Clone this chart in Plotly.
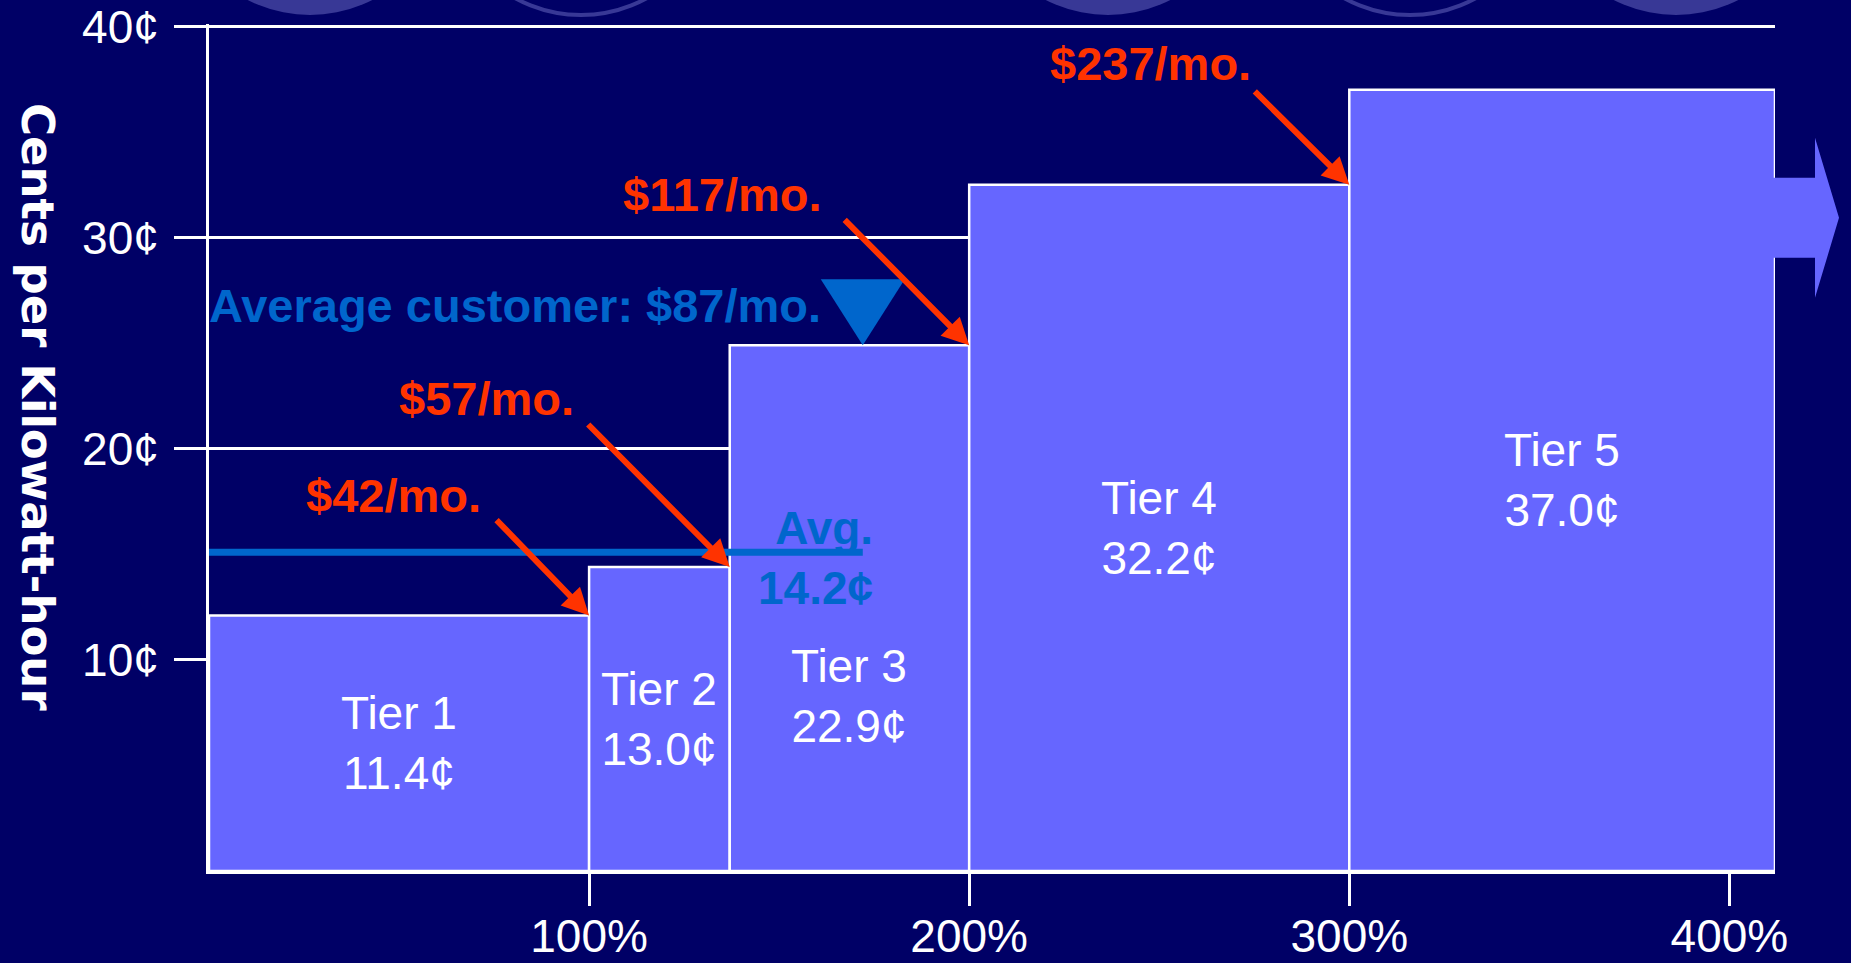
import plotly.graph_objects as go

# ---------------- data ----------------
tier_names = ["Tier 1", "Tier 2", "Tier 3", "Tier 4", "Tier 5"]
tier_rate_labels = ["11.4¢", "13.0¢", "22.9¢", "32.2¢", "37.0¢"]
# usage boundaries, % of baseline
tier_bounds_pct = [0, 100, 137, 200, 300, 412]
# bar heights as drawn against the cents axis
tier_bar_heights = [12.1, 14.4, 24.9, 32.5, 37.0]

# monthly bills at the top of each of tiers 1-4
bill_labels = ["$42/mo.", "$57/mo.", "$117/mo.", "$237/mo."]

avg_usage_pct = 172
avg_rate_height = 15.1
avg_rate_label = "14.2¢"
avg_bill_label = "Average customer: $87/mo."

x_tick_vals = [100, 200, 300, 400]
x_tick_text = ["100%", "200%", "300%", "400%"]
y_tick_vals = [10, 20, 30, 40]
y_tick_text = ["10¢", "20¢", "30¢", "40¢"]
y_title = "Cents per Kilowatt-hour"

# ---------------- style ----------------
BG = "#000066"
BAR = "#6666FF"
RED = "#FF3300"
BLUE = "#0066CC"
DECO = "#383896"
FONT = "Liberation Sans, Arial, sans-serif"
W, H = 1851, 963
ML, MR, MT, MB = 209, 76, 24, 92
PW, PH = W - ML - MR, H - MT - MB
Y_TOP = 40.12

centers = [(a + b) / 2 for a, b in zip(tier_bounds_pct[:-1], tier_bounds_pct[1:])]
widths = [b - a for a, b in zip(tier_bounds_pct[:-1], tier_bounds_pct[1:])]

fig = go.Figure()
fig.add_trace(go.Bar(
    x=centers, y=tier_bar_heights, width=widths,
    marker=dict(color=BAR, line=dict(color="white", width=2.5)),
    hoverinfo="skip", showlegend=False,
))
fig.add_trace(go.Scatter(
    x=[0, avg_usage_pct], y=[avg_rate_height, avg_rate_height],
    mode="lines", line=dict(color=BLUE, width=7),
    hoverinfo="skip", showlegend=False,
))

annotations = []
label_frac = [0.5, 0.5, 0.333, 0.5, 0.5]
for i, (name, lab) in enumerate(zip(tier_names, tier_rate_labels)):
    annotations.append(dict(
        x=centers[i], y=tier_bar_heights[i] * label_frac[i], xref="x", yref="y",
        text=f"{name}<br>{lab}", showarrow=False,
        font=dict(family=FONT, size=46, color="white"),
        xanchor="center", yanchor="middle",
    ))

# red arrows: tail offsets (px) and text offsets (px) relative to the arrow tip
arrow_tail = [(-94, -97), (-143, -144), (-126, -127), (-96, -95)]
text_off = [(-196, 120), (-243, 168), (-247, 151), (-199, 121)]
for i, lab in enumerate(bill_labels):
    tx = tier_bounds_pct[i + 1]
    ty = tier_bar_heights[i]
    annotations.append(dict(
        x=tx, y=ty, xref="x", yref="y", text="", showarrow=True,
        ax=arrow_tail[i][0], ay=arrow_tail[i][1],
        arrowcolor=RED, arrowwidth=6, arrowhead=2, arrowsize=0.9,
        standoff=0, startstandoff=0, font=dict(size=2),
    ))
    annotations.append(dict(
        x=tx, y=ty, xref="x", yref="y", text=lab, showarrow=False,
        xshift=text_off[i][0], yshift=text_off[i][1],
        font=dict(family=FONT, size=47, color=RED, weight="bold"),
        xanchor="center", yanchor="middle",
    ))

annotations.append(dict(
    x=0, y=tier_bar_heights[2], xref="x", yref="y", text=avg_bill_label,
    showarrow=False, xanchor="left", yanchor="middle", yshift=40, xshift=-2,
    font=dict(family=FONT, size=47, color=BLUE, weight="bold"),
))
annotations.append(dict(
    x=avg_usage_pct, y=avg_rate_height, xref="x", yref="y",
    text=f"Avg.<br>{avg_rate_label}", showarrow=False, align="right",
    xanchor="right", yanchor="middle", xshift=12, yshift=-6,
    font=dict(family=FONT, size=46, color=BLUE, weight="bold"),
))
annotations.append(dict(
    x=(38 - ML) / PW, y=(MT + PH - 407) / PH, xref="paper", yref="paper",
    text=y_title, textangle=90, showarrow=False,
    xanchor="center", yanchor="middle",
    font=dict(family="DejaVu Sans, Verdana, sans-serif", size=45, color="white", weight="bold"),
))

shapes = []
# average-customer marker (triangle, pixel-sized, tip on Tier 3 top)
shapes.append(dict(
    type="path", xref="x", yref="y", xsizemode="pixel", ysizemode="pixel",
    xanchor=avg_usage_pct, yanchor=tier_bar_heights[2],
    path="M0,0 L-42,66 L42,66 Z", fillcolor=BLUE, line=dict(width=0), layer="above",
))
# open-ended arrow on Tier 5
shapes.append(dict(
    type="path", xref="paper", yref="y", xsizemode="pixel", ysizemode="pixel",
    xanchor=1, yanchor=tier_bar_heights[4],
    path="M-2,-88 L40,-88 L40,-48 L64,-128 L40,-208 L40,-168 L-2,-168 Z",
    fillcolor=BAR, line=dict(width=0), layer="above",
))

# decorative slide circles along the top edge (pixel positions)
def px_x(px):
    return (px - ML) / PW

def px_y(py):
    return (MT + PH - py) / PH

R = 137
for cx, filled in [(310, True), (581, False), (1108, True), (1410, False), (1676, True)]:
    bottom = 15
    shapes.append(dict(
        type="circle", xref="paper", yref="paper",
        x0=px_x(cx - R), x1=px_x(cx + R), y0=px_y(bottom), y1=px_y(bottom - 2 * R),
        fillcolor=DECO if filled else BG,
        line=dict(color=DECO, width=0 if filled else 4), layer="below",
    ))

fig.update_layout(
    width=W, height=H,
    margin=dict(l=ML, r=MR, t=MT, b=MB, pad=0, autoexpand=False),
    paper_bgcolor=BG, plot_bgcolor=BG,
    showlegend=False, hovermode=False,
    annotations=annotations, shapes=shapes,
    xaxis=dict(
        range=[0, tier_bounds_pct[-1]], tickvals=x_tick_vals, ticktext=x_tick_text,
        ticks="outside", ticklen=32, tickwidth=3, tickcolor="white",
        showline=True, linecolor="white", linewidth=3, automargin=False,
        showgrid=False, zeroline=False, fixedrange=True, ticklabelstandoff=-9,
        ticklabeloverflow="allow",
        tickfont=dict(family=FONT, size=46, color="white"),
    ),
    yaxis=dict(
        range=[0, Y_TOP], tickvals=y_tick_vals, ticktext=y_tick_text,
        ticks="outside", ticklen=32, tickwidth=3, tickcolor="white",
        showline=True, linecolor="white", linewidth=3, automargin=False,
        showgrid=True, gridcolor="white", gridwidth=3, zeroline=False, fixedrange=True,
        ticklabelstandoff=6, ticklabeloverflow="allow",
        tickfont=dict(family=FONT, size=46, color="white"),
    ),
)

fig.write_html(
    "out.html",
    config={"displayModeBar": False},
    post_script="document.body.style.margin='0';document.body.style.overflow='hidden';",
)
